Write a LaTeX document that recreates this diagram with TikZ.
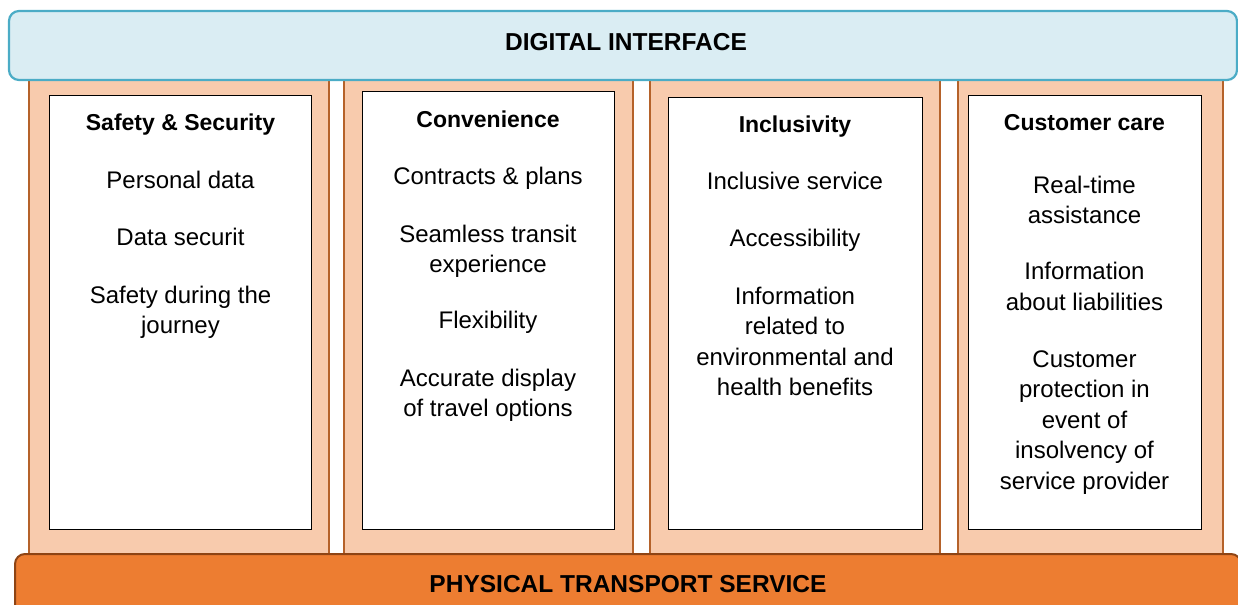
\documentclass[tikz,border=0pt]{standalone}
\usepackage{fontspec}
\setmainfont{Liberation Sans}
\definecolor{difill}{HTML}{DAEDF3}
\definecolor{diline}{HTML}{4BACC6}
\definecolor{pilfill}{HTML}{F8CBAD}
\definecolor{pilline}{HTML}{B5622A}
\definecolor{barfill}{HTML}{ED7D31}
\definecolor{barline}{HTML}{8E4414}
\tikzset{
  pillar/.style={draw=pilline, fill=pilfill, line width=2bp, inner sep=0pt, rectangle},
  card/.style={draw=black, fill=white, line width=1bp, inner sep=0pt, rectangle},
  header/.style={draw=diline, fill=difill, line width=2.2bp, rounded corners=10bp, inner sep=0pt},
  basebar/.style={draw=barline, fill=barfill, line width=2bp, rounded corners=10bp, inner sep=0pt},
  bigtext/.style={font=\bfseries\fontsize{24.5bp}{29bp}\selectfont, inner sep=0pt},
  title/.style={font=\bfseries\fontsize{23bp}{28bp}\selectfont, align=center, anchor=north, inner sep=0pt,
     execute at begin node={\rule{0pt}{20bp}}},
  item/.style={font=\fontsize{24bp}{30.5bp}\selectfont, align=center, anchor=north, inner sep=0pt,
     execute at begin node={\rule{0pt}{20bp}}}
}
\begin{document}
\begin{tikzpicture}[x=1bp,y=-1bp]
\useasboundingbox (0,0) rectangle (1238,605);
% pillars
\node[pillar, minimum width=300bp, minimum height=490bp] (p1) at (179,315) {};
\node[pillar, minimum width=289bp, minimum height=490bp] (p2) at (488.5,315) {};
\node[pillar, minimum width=290bp, minimum height=490bp] (p3) at (795,315) {};
\node[pillar, minimum width=265bp, minimum height=490bp] (p4) at (1090.5,315) {};
% header and base
\node[header, minimum width=1228bp, minimum height=69bp] (di) at (623,45.5) {};
\node[bigtext] (ditext) at (626,42) {DIGITAL INTERFACE};
\node[basebar, minimum width=1226bp, minimum height=80bp, anchor=north west] (pts) at (14,553) {};
\node[bigtext] (ptstext) at (628,584) {PHYSICAL TRANSPORT SERVICE};
% cards
\node[card, minimum width=261bp, minimum height=433bp] (c1) at (180.5,312.5) {};
\node[card, minimum width=252bp, minimum height=437bp] (c2) at (488,310.5) {};
\node[card, minimum width=254bp, minimum height=431bp] (c3) at (795,313.5) {};
\node[card, minimum width=233bp, minimum height=433bp] (c4) at (1084.5,312.5) {};
% column 1
\node[title] (t1) at (180.5,110) {Safety \& Security};
\node[item] (i11) at (180.5,168) {Personal data};
\node[item] (i12) at (180.5,225) {Data securit};
\node[item] (i13) at (180.5,285.5) {Safety during the\\journey};
% column 2
\node[title] (t2) at (488,107) {Convenience};
\node[item] (i21) at (488,164) {Contracts \& plans};
\node[item] (i22) at (488,224.5) {Seamless transit\\experience};
\node[item] (i23) at (488,308) {Flexibility};
\node[item] (i24) at (488,368.5) {Accurate display\\of travel options};
% column 3
\node[title] (t3) at (795,112) {Inclusivity};
\node[item] (i31) at (795,169) {Inclusive service};
\node[item] (i32) at (795,226) {Accessibility};
\node[item] (i33) at (795,286.5) {Information\\related to\\environmental and\\health benefits};
% column 4
\node[title] (t4) at (1084.5,110.5) {Customer care};
\node[item] (i41) at (1084.5,175.5) {Real-time\\assistance};
\node[item] (i42) at (1084.5,262) {Information\\about liabilities};
\node[item] (i43) at (1084.5,350.5) {Customer\\protection in\\event of\\insolvency of\\service provider};
\end{tikzpicture}
\end{document}
